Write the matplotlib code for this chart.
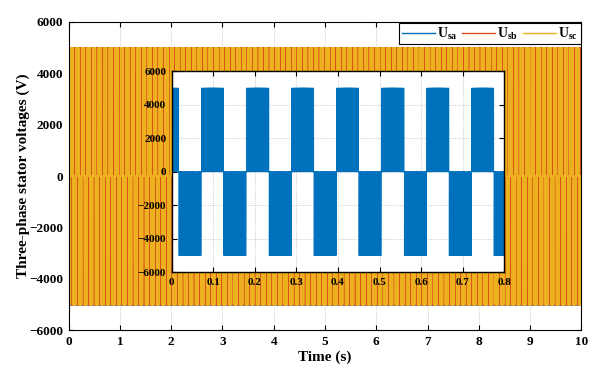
import numpy as np
import matplotlib
matplotlib.use("Agg")
import matplotlib.pyplot as plt

plt.rcParams["font.family"] = ["Liberation Serif", "DejaVu Serif"]
plt.rcParams["font.weight"] = "bold"
plt.rcParams["mathtext.fontset"] = "custom"
plt.rcParams["mathtext.rm"] = "Liberation Serif:bold"
plt.rcParams["mathtext.bf"] = "Liberation Serif:bold"
plt.rcParams["mathtext.it"] = "Liberation Serif:bold"
plt.rcParams["agg.path.chunksize"] = 20000

# Inverter output parameters
V_LEVEL = 5000.0            # switching level of each phase (V)
F_FUND = 9.23               # fundamental stator frequency (Hz)
T_ZERO_A = 0.071            # rising zero crossing of phase a (s)
PHASE_SHIFT_DEG = [0.0, -120.0, 120.0]
F_CARRIER = 1000.0          # PWM carrier frequency (Hz)
MOD_INDEX = 0.9
T_END = 10.0
FS = 20000.0                # sampling rate (Hz)

SERIES_LABELS = [r"$\mathbf{U}_{\mathbf{sa}}$", r"$\mathbf{U}_{\mathbf{sb}}$", r"$\mathbf{U}_{\mathbf{sc}}$"]
SERIES_COLORS = ["#0072BD", "#D95319", "#EDB120"]

MAIN_XTICKS = list(range(0, 11))
MAIN_YTICKS = [-6000, -4000, -2000, 0, 2000, 4000, 6000]
INSET_XTICKS = [0, 0.1, 0.2, 0.3, 0.4, 0.5, 0.6, 0.7, 0.8]
INSET_XLABELS = ["0", "0.1", "0.2", "0.3", "0.4", "0.5", "0.6", "0.7", "0.8"]
INSET_YTICKS = [-6000, -4000, -2000, 0, 2000, 4000, 6000]

t = np.arange(0.0, T_END, 1.0 / FS)
carrier = 2.0 * np.abs((t * F_CARRIER) % 1.0 - 0.5)   # triangle in [0, 1]


def phase_voltage(shift_deg):
    ref = MOD_INDEX * np.sin(2 * np.pi * F_FUND * (t - T_ZERO_A) + np.deg2rad(shift_deg))
    return V_LEVEL * np.sign(ref) * (np.abs(ref) >= carrier)


voltages = [phase_voltage(s) for s in PHASE_SHIFT_DEG]

fig = plt.figure(figsize=(5.97, 3.72), dpi=100)
ax = fig.add_axes([0.1151, 0.1121, 0.8586, 0.8288])
ax.set_axisbelow(True)

for v, lab, col in zip(voltages, SERIES_LABELS, SERIES_COLORS):
    ax.plot(t, v, color=col, lw=1.0, label=lab)

ax.set_xlim(0, 10)
ax.set_ylim(-6000, 6000)
ax.set_xticks(MAIN_XTICKS)
ax.set_yticks(MAIN_YTICKS)
ax.tick_params(direction="in", top=True, right=True, length=3.5, width=0.8,
               labelsize=9.5, pad=4)
ax.grid(True, linestyle=":", color="#b8b8b8", linewidth=0.6)
for sp in ax.spines.values():
    sp.set_linewidth(0.8)
    sp.set_zorder(5)
ax.set_xlabel("Time (s)", fontsize=11, fontweight="bold", labelpad=2)
ax.set_ylabel("Three-phase stator voltages (V)", fontsize=11, fontweight="bold", labelpad=-0.5)

leg = ax.legend(loc="upper right", ncol=3, fontsize=10, frameon=True, fancybox=False,
                edgecolor="black", framealpha=1, handlelength=2.35, handletextpad=0.15,
                columnspacing=0.35, borderpad=0.2, borderaxespad=0.05)
leg.get_frame().set_linewidth(0.8)
for h in leg.get_lines():
    h.set_linewidth(1.0)

# Zoomed view of phase a over the first 0.8 s
ins = fig.add_axes([0.2876, 0.2680, 0.5571, 0.5403])
ins.set_facecolor("white")
ins.set_axisbelow(True)
m = t <= 0.8 + 1e-9
ins.plot(t[m], voltages[0][m], color=SERIES_COLORS[0], lw=0.5)
ins.set_xlim(0, 0.8)
ins.set_ylim(-6000, 6000)
ins.set_xticks(INSET_XTICKS)
ins.set_xticklabels(INSET_XLABELS)
ins.set_yticks(INSET_YTICKS)
ins.tick_params(direction="in", top=True, right=True, length=3.5, width=0.8,
                labelsize=8, pad=4)
ins.grid(True, linestyle=":", color="#b8b8b8", linewidth=0.6)
for sp in ins.spines.values():
    sp.set_linewidth(1.0)
    sp.set_zorder(5)

fig.savefig("out.png", dpi=100)
